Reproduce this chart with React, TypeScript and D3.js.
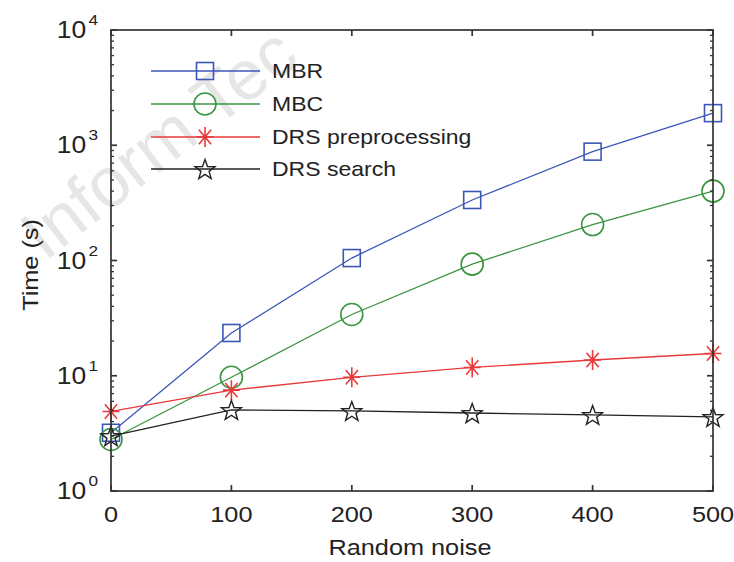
import React, { useEffect, useRef } from 'react';
import * as d3 from 'd3';

// values (log-scale y)
const noise = [0, 100, 200, 300, 400, 500];
const mbr = [3.2, 23.5, 105, 335, 880, 1900];
const mbc = [2.8, 9.7, 34, 93, 205, 400];
const drsPre = [4.9, 7.5, 9.7, 11.8, 13.7, 15.6];
const drsSearch = [3.0, 5.05, 4.95, 4.75, 4.57, 4.39];

const seriesNames = ['MBR', 'MBC', 'DRS preprocessing', 'DRS search'];
const seriesColors = ['#3c56b8', '#3a9440', '#e83a3a', '#222222'];
const seriesMarkers = ['square', 'circle', 'asterisk', 'star'];
const xTicks = [0, 100, 200, 300, 400, 500];
const yDecades = [0, 1, 2, 3, 4];

const FONT = 'Arial, "Liberation Sans", Helvetica, sans-serif';
const SX = 1.15; // the reference text is a little stretched sideways

function drawMarker(g: any, kind: string, x: number, y: number, color: string) {
  if (kind === 'square') {
    g.append('rect').attr('x', x - 8.5).attr('y', y - 8.5).attr('width', 17).attr('height', 17)
      .attr('fill', 'none').attr('stroke', color).attr('stroke-width', 1.6);
  } else if (kind === 'circle') {
    g.append('circle').attr('cx', x).attr('cy', y).attr('r', 11)
      .attr('fill', 'none').attr('stroke', color).attr('stroke-width', 1.6);
  } else if (kind === 'asterisk') {
    const r = 10;
    const d = r * 0.72;
    const p = `M${x},${y - r}L${x},${y + r}M${x - r * 0.85},${y}L${x + r * 0.85},${y}` +
      `M${x - d * 0.85},${y - d}L${x + d * 0.85},${y + d}M${x - d * 0.85},${y + d}L${x + d * 0.85},${y - d}`;
    g.append('path').attr('d', p).attr('fill', 'none').attr('stroke', color).attr('stroke-width', 1.6);
  } else {
    const R = 10.5;
    const r = 4.3;
    const pts: [number, number][] = [];
    for (let i = 0; i < 10; i++) {
      const a = -Math.PI / 2 + (i * Math.PI) / 5;
      const rr = i % 2 === 0 ? R : r;
      pts.push([x + rr * Math.cos(a), y + 1 + rr * Math.sin(a)]);
    }
    g.append('path').attr('d', 'M' + pts.map(p => p.join(',')).join('L') + 'Z')
      .attr('fill', 'none').attr('stroke', color).attr('stroke-width', 1.4);
  }
}

function Chart() {
  const ref = useRef<SVGSVGElement>(null);

  useEffect(() => {
    const svg = d3.select(ref.current);
    svg.selectAll('*').remove();

    const left = 111, right = 713, top = 30, bottom = 491;
    const x = d3.scaleLinear().domain([0, 500]).range([left, right]);
    const y = d3.scaleLog().domain([1, 1e4]).range([bottom, top]);

    svg.append('rect').attr('width', 734).attr('height', 562).attr('fill', '#fff');

    // faint watermark behind the chart
    svg.append('text').attr('transform', 'translate(45,262) rotate(-38)')
      .attr('fill', '#e6e6e6').style('font-family', FONT).style('font-size', '70px')
      .text('Inform Tec');

    const all = [mbr, mbc, drsPre, drsSearch];

    // series lines
    all.forEach((vals, i) => {
      const line = d3.line<number>().x((d, j) => x(noise[j])).y(d => y(d));
      svg.append('path').attr('d', line(vals)).attr('fill', 'none')
        .attr('stroke', seriesColors[i]).attr('stroke-width', 1.3);
    });
    // markers
    all.forEach((vals, i) => {
      const g = svg.append('g');
      vals.forEach((v, j) => drawMarker(g, seriesMarkers[i], x(noise[j]), y(v), seriesColors[i]));
    });

    // box
    const axis = svg.append('g').attr('stroke', '#333').attr('fill', 'none');
    axis.append('rect').attr('x', left).attr('y', top).attr('width', right - left).attr('height', bottom - top)
      .attr('stroke-width', 1.7);

    // x ticks, bottom and top
    xTicks.forEach(t => {
      axis.append('line').attr('x1', x(t)).attr('x2', x(t)).attr('y1', bottom).attr('y2', bottom - 6).attr('stroke-width', 1.7);
      axis.append('line').attr('x1', x(t)).attr('x2', x(t)).attr('y1', top).attr('y2', top + 6).attr('stroke-width', 1.7);
    });
    // y ticks, left and right, with log minors
    yDecades.forEach(e => {
      const base = Math.pow(10, e);
      axis.append('line').attr('x1', left).attr('x2', left + 6).attr('y1', y(base)).attr('y2', y(base)).attr('stroke-width', 1.7);
      axis.append('line').attr('x1', right).attr('x2', right - 6).attr('y1', y(base)).attr('y2', y(base)).attr('stroke-width', 1.7);
      if (e < 4) {
        for (let m = 2; m <= 9; m++) {
          const v = y(base * m);
          axis.append('line').attr('x1', left).attr('x2', left + 3).attr('y1', v).attr('y2', v).attr('stroke-width', 1.3);
          axis.append('line').attr('x1', right).attr('x2', right - 3).attr('y1', v).attr('y2', v).attr('stroke-width', 1.3);
        }
      }
    });

    const txt = svg.append('g').attr('fill', '#222').style('font-family', FONT);

    // x tick labels
    xTicks.forEach(t => {
      txt.append('text').attr('transform', `translate(${x(t)},522) scale(${SX},1)`)
        .attr('text-anchor', 'middle').style('font-size', '22px').text(String(t));
    });
    // y tick labels 10^n
    yDecades.forEach(e => {
      const t = txt.append('text').attr('transform', `translate(98,${y(Math.pow(10, e)) + 8}) scale(${SX},1)`)
        .attr('text-anchor', 'end').style('font-size', '23px');
      t.append('tspan').text('10');
      t.append('tspan').attr('dy', -13).attr('dx', 2).style('font-size', '15px').text(String(e));
    });

    // axis titles
    txt.append('text').attr('transform', `translate(410,555) scale(${SX},1)`)
      .attr('text-anchor', 'middle').style('font-size', '22px').text('Random noise');
    txt.append('text').attr('transform', `translate(38,265) rotate(-90) scale(${SX},1)`)
      .attr('text-anchor', 'middle').style('font-size', '22px').text('Time (s)');

    // legend
    const rows = [71, 104, 137, 169];
    seriesNames.forEach((name, i) => {
      const g = svg.append('g');
      g.append('line').attr('x1', 151).attr('x2', 260).attr('y1', rows[i]).attr('y2', rows[i])
        .attr('stroke', seriesColors[i]).attr('stroke-width', 1.3);
      drawMarker(g, seriesMarkers[i], 205, rows[i], seriesColors[i]);
      txt.append('text').attr('transform', `translate(272,${rows[i] + 7}) scale(${SX},1)`)
        .style('font-size', '20px').text(name);
    });
  }, []);

  return <svg ref={ref} width={734} height={562} style={{ position: 'absolute', left: 0, top: 0 }} />;
}

export default function App() {
  return <Chart />;
}
